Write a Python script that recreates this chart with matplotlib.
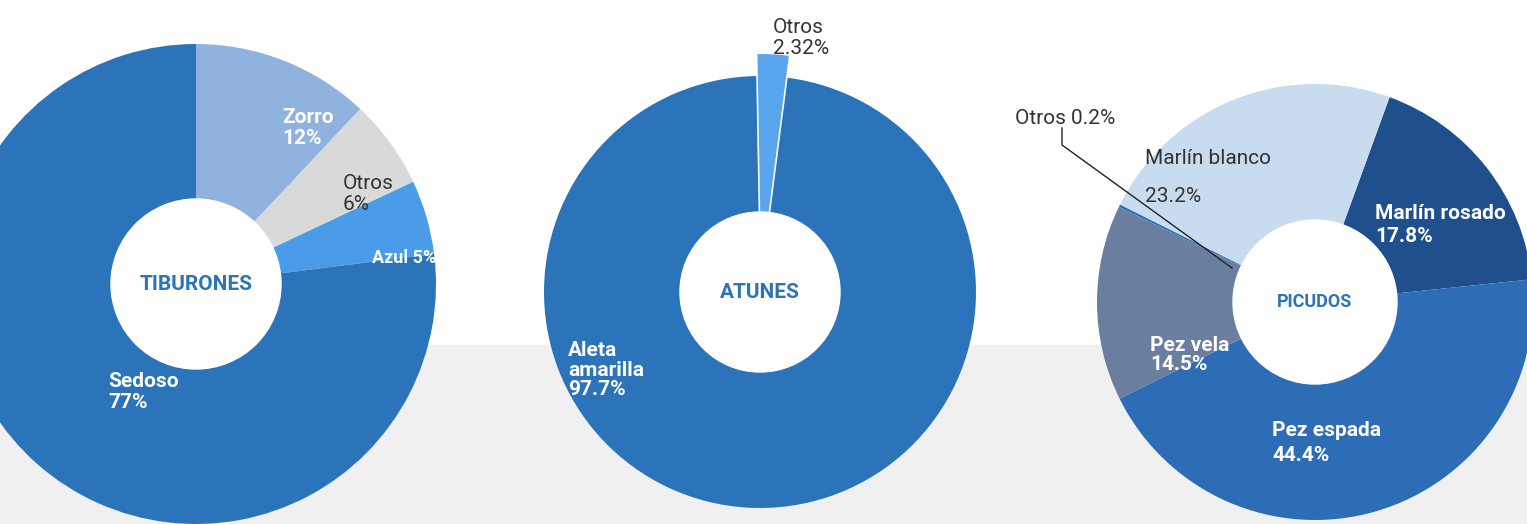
import matplotlib.pyplot as plt
from matplotlib.patches import Circle, Rectangle

plt.rcParams['font.family'] = ['Roboto', 'DejaVu Sans']

# tiburones
tib_labels = ['Zorro', 'Otros', 'Azul', 'Sedoso']
tib_vals = [12, 6, 5, 77]
tib_colors = ['#8fb3de', '#d9d9d9', '#4a9ce8', '#2b74ba']

# atunes
atu_labels = ['Otros', 'Aleta amarilla']
atu_vals = [2.32, 97.7]
atu_colors = ['#5aa6ee', '#2b74ba']

# picudos
pic_labels = ['Marlín rosado', 'Pez espada', 'Pez vela', 'Otros', 'Marlín blanco']
pic_vals = [17.8, 44.4, 14.5, 0.2, 23.2]
pic_colors = ['#1f4f8c', '#2c6db6', '#6a7fa0', '#2b74ba', '#c8dcf0']

W, H = 1527, 524
fig = plt.figure(figsize=(W / 100, H / 100), dpi=100)
ax = fig.add_axes([0, 0, 1, 1])

def py(y):
    return H - y

ax.add_patch(Rectangle((0, 0), W, py(345), color='#f0f0f0', zorder=0))

def donut(vals, colors, cx, cy, r, rin, start, explode=None):
    ax.pie(vals, colors=colors, center=(cx, py(cy)), radius=r, startangle=start,
           counterclock=False, explode=explode, frame=True,
           wedgeprops=dict(linewidth=0))
    ax.add_patch(Circle((cx, py(cy)), rin, color='white', zorder=5))

donut(tib_vals, tib_colors, 196, 284, 240, 85, 90)
# explode is in data units here (pixels)
donut(atu_vals, atu_colors, 760, 292, 216, 80, 91, explode=[22, 0])
donut(pic_vals, pic_colors, 1315, 302, 218, 82, 70)
ax.set_xlim(0, W)
ax.set_ylim(0, H)
ax.set_aspect('equal')
ax.axis('off')

tk = dict(color='white', fontsize=15, fontweight='bold', zorder=6, va='center')
dk = dict(color='#333333', fontsize=15, zorder=6, va='center')
ax.text(196, py(284), 'TIBURONES', color='#2b74ba', fontsize=15, fontweight='bold',
        ha='center', va='center', zorder=6)
ax.text(760, py(292), 'ATUNES', color='#2b74ba', fontsize=15, fontweight='bold',
        ha='center', va='center', zorder=6)
ax.text(1315, py(302), 'PICUDOS', color='#2b74ba', fontsize=13, fontweight='bold',
        ha='center', va='center', zorder=6)

ax.text(282, py(128), 'Zorro\n12%', ha='left', linespacing=1.1, **tk)
ax.text(343, py(194), 'Otros\n6%', ha='left', linespacing=1.1, **dk)
ax.text(372, py(258), 'Azul 5%', ha='left', color='white', fontsize=13,
        fontweight='bold', zorder=6, va='center')
ax.text(108, py(392), 'Sedoso\n77%', ha='left', linespacing=1.1, **tk)

ax.text(773, py(38), 'Otros\n2.32%', ha='left', linespacing=1.1, **dk)
ax.text(568, py(370), 'Aleta\namarilla\n97.7%', ha='left', linespacing=1.05, **tk)

ax.text(1145, py(178), 'Marlín blanco\n\n23.2%', ha='left', linespacing=1.0, **dk)
ax.text(1375, py(225), 'Marlín rosado\n17.8%', ha='left', linespacing=1.3, **tk)
ax.text(1272, py(443), 'Pez espada\n44.4%', ha='left', linespacing=1.4, **tk)
ax.text(1150, py(355), 'Pez vela\n14.5%', ha='left', linespacing=1.0, **tk)
ax.text(1015, py(118), 'Otros 0.2%', ha='left', **dk)
ax.plot([1062, 1062, 1232], [py(128), py(145), py(268)], color='#222222', lw=1, zorder=6)

fig.savefig('out.png', dpi=100)
